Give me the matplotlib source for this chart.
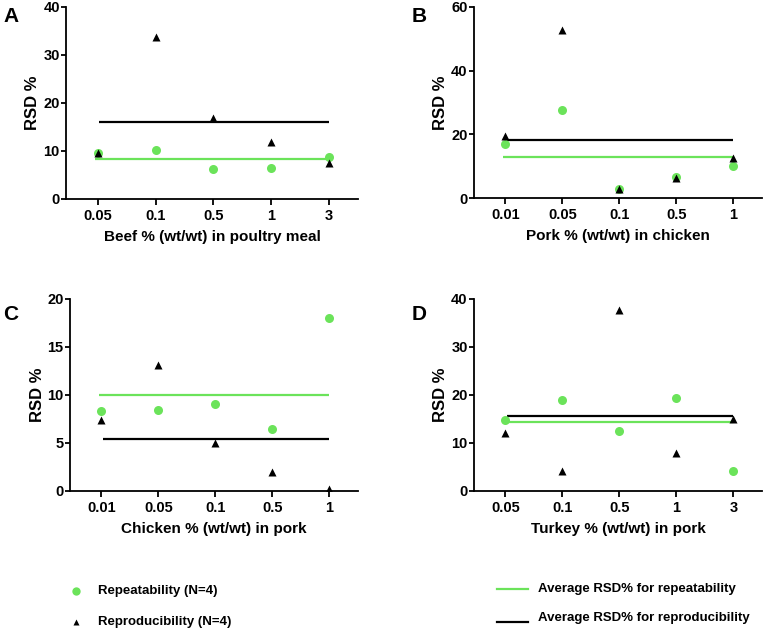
import numpy as np
import matplotlib
matplotlib.use('Agg')
import matplotlib.pyplot as plt
from matplotlib.lines import Line2D

plt.rcParams['font.family'] = ['Liberation Sans', 'DejaVu Sans']
plt.rcParams['font.weight'] = 'bold'

green = '#6be35a'

# panel A
a_cats = ['0.05', '0.1', '0.5', '1', '3']
a_rep = [9.6, 10.3, 6.3, 6.5, 8.7]
a_repro = [9.6, 33.7, 16.9, 11.9, 7.5]
a_mean = [8.4, 16.1]
# panel B
b_cats = ['0.01', '0.05', '0.1', '0.5', '1']
b_rep = [16.9, 27.7, 2.8, 6.6, 9.9]
b_repro = [19.6, 52.9, 2.8, 6.3, 12.7]
b_mean = [12.8, 18.3]
# panel C
c_cats = ['0.01', '0.05', '0.1', '0.5', '1']
c_rep = [8.35, 8.4, 9.05, 6.5, 18.05]
c_repro = [7.4, 13.15, 5.0, 2.0, 0.2]
c_mean = [10.0, 5.4]
# panel D
d_cats = ['0.05', '0.1', '0.5', '1', '3']
d_rep = [14.8, 19.0, 12.5, 19.4, 4.1]
d_repro = [12.0, 4.1, 37.8, 8.0, 15.0]
d_mean = [14.3, 15.7]

panels = [
    ('A', a_cats, a_rep, a_repro, a_mean, 'Beef % (wt/wt) in poultry meal', 40, 10),
    ('B', b_cats, b_rep, b_repro, b_mean, 'Pork % (wt/wt) in chicken', 60, 20),
    ('C', c_cats, c_rep, c_repro, c_mean, 'Chicken % (wt/wt) in pork', 20, 5),
    ('D', d_cats, d_rep, d_repro, d_mean, 'Turkey % (wt/wt) in pork', 40, 10),
]

W, H = 764, 631
fig = plt.figure(figsize=(W / 100, H / 100), dpi=100)

# axes boxes in pixels: left, right, top, bottom
boxes = [(66, 358, 7, 199), (474, 762, 7, 198), (70, 358, 299, 491), (474, 762, 299, 491)]
letter_pos = [(3, 17), (412, 17), (3, 315), (412, 315)]

for (letter, cats, rep, repro, mean, xlab, ymax, ystep), (l, r, t, b), (lx, ly) in zip(panels, boxes, letter_pos):
    ax = fig.add_axes([l / W, 1 - b / H, (r - l) / W, (b - t) / H])
    x = np.arange(len(cats))
    ax.hlines(mean[0], -0.04, 4.0, color=green, lw=1.6, zorder=2)
    ax.hlines(mean[1], 0.02, 4.0, color='black', lw=1.6, zorder=2)
    ax.plot(x, rep, 'o', color=green, ms=6.5, mec='none', zorder=3)
    ax.plot(x, repro, '^', color='black', ms=5.5, mec='none', zorder=4)
    ax.set_ylim(0, ymax)
    ax.set_xlim(-0.55, 4.5)
    ax.set_yticks(np.arange(0, ymax + 1, ystep))
    ax.set_xticks(x)
    ax.set_xticklabels(cats)
    ax.spines['top'].set_visible(False)
    ax.spines['right'].set_visible(False)
    for s in ['left', 'bottom']:
        ax.spines[s].set_linewidth(1.3)
    ax.tick_params(axis='y', width=1.3, length=3.5, labelsize=10.5, pad=1)
    ax.tick_params(axis='x', width=1.3, length=4, labelsize=10.5, pad=3)
    ax.set_xlabel(xlab, fontsize=11, fontweight='bold', labelpad=5)
    ax.set_ylabel('RSD %', fontsize=12, fontweight='bold', labelpad=2)
    fig.text(lx / W, 1 - ly / H, letter, fontsize=15, fontweight='bold', va='center', ha='left')

# legend
leg_font = ['Liberation Sans Narrow', 'Liberation Sans', 'DejaVu Sans']
fig.add_artist(Line2D([76 / W], [1 - 591 / H], marker='o', color=green, ms=6, mec='none', ls='none'))
fig.add_artist(Line2D([76 / W], [1 - 622 / H], marker='^', color='black', ms=5, mec='none', ls='none'))
fig.text(98 / W, 1 - 591 / H, 'Repeatability (N=4)', family=leg_font, fontsize=9.5, fontweight='bold', va='center')
fig.text(98 / W, 1 - 622 / H, 'Reproducibility (N=4)', family=leg_font, fontsize=9.5, fontweight='bold', va='center')
fig.add_artist(Line2D([497 / W, 528 / W], [1 - 589 / H] * 2, color=green, lw=1.6))
fig.add_artist(Line2D([497 / W, 528 / W], [1 - 622 / H] * 2, color='black', lw=1.6))
fig.text(538 / W, 1 - 589 / H, 'Average RSD% for repeatability', family=leg_font, fontsize=9.5, fontweight='bold', va='center')
fig.text(538 / W, 1 - 618 / H, 'Average RSD% for reproducibility', family=leg_font, fontsize=9.5, fontweight='bold', va='center')

fig.savefig('out.png', dpi=100)
